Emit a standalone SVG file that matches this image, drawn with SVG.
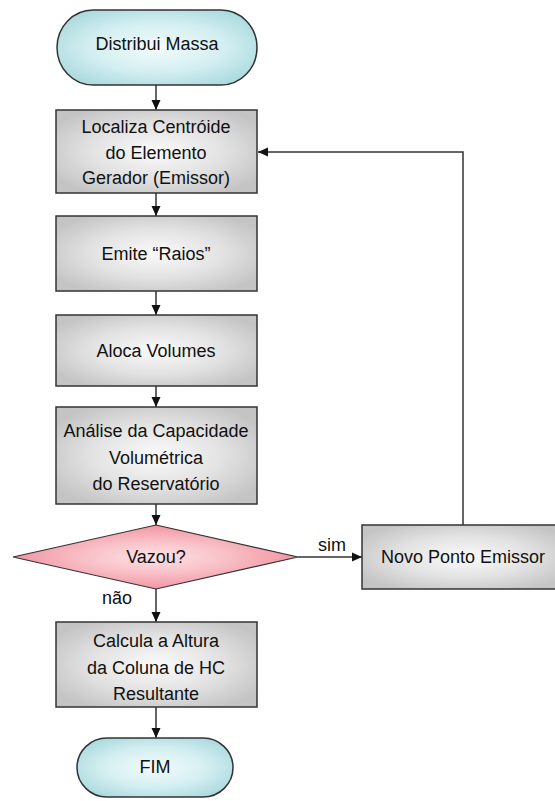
<svg xmlns="http://www.w3.org/2000/svg" width="555" height="801" viewBox="0 0 555 801">
<defs>
<radialGradient id="gBox" cx="0.5" cy="0.5" r="0.6">
<stop offset="0" stop-color="#fafafa"/>
<stop offset="0.55" stop-color="#e2e2e2"/>
<stop offset="1" stop-color="#c4c4c4"/>
</radialGradient>
<radialGradient id="gTerm" cx="0.5" cy="0.5" r="0.6">
<stop offset="0" stop-color="#f2fbfc"/>
<stop offset="0.55" stop-color="#d4eff1"/>
<stop offset="1" stop-color="#a9d9de"/>
</radialGradient>
<radialGradient id="gDia" cx="0.5" cy="0.5" r="0.5">
<stop offset="0" stop-color="#fde3e6"/>
<stop offset="0.5" stop-color="#f9c0c7"/>
<stop offset="1" stop-color="#f195a2"/>
</radialGradient>
<marker id="arr" viewBox="0 0 10 10" refX="10" refY="5" markerWidth="10" markerHeight="10" markerUnits="userSpaceOnUse" orient="auto">
<path d="M0,0.5 L10,5 L0,9.5 Z" fill="#111"/>
</marker>
</defs>
<style>
.box{fill:url(#gBox);stroke:#333;stroke-width:1.5}
.term{fill:url(#gTerm);stroke:#333;stroke-width:1.5}
.dia{fill:url(#gDia);stroke:#333;stroke-width:1.2}
.t{font-family:"Liberation Sans",Arial,sans-serif;font-size:18px;fill:#111;text-anchor:middle}
.lbl{font-family:"Liberation Sans",Arial,sans-serif;font-size:18px;fill:#111}
.c{fill:none;stroke:#333;stroke-width:1.5}
</style>
<rect width="555" height="801" fill="#fff"/>
<g id="connectors">
<line class="c" x1="156" y1="85" x2="156" y2="110" marker-end="url(#arr)"/>
<line class="c" x1="156" y1="193" x2="156" y2="216" marker-end="url(#arr)"/>
<line class="c" x1="156" y1="291" x2="156" y2="315" marker-end="url(#arr)"/>
<line class="c" x1="156" y1="386" x2="156" y2="407" marker-end="url(#arr)"/>
<line class="c" x1="156" y1="504" x2="156" y2="525" marker-end="url(#arr)"/>
<line class="c" x1="156" y1="589" x2="156" y2="622" marker-end="url(#arr)"/>
<line class="c" x1="156" y1="707" x2="156" y2="738" marker-end="url(#arr)"/>
<line class="c" x1="298" y1="557" x2="362" y2="557" marker-end="url(#arr)"/>
<polyline class="c" points="463,525 463,152 258,152" marker-end="url(#arr)"/>
<text class="lbl" x="318" y="551">sim</text>
<text class="lbl" x="102" y="604">não</text>
</g>
<g id="n-distribui">
<rect class="term" x="57" y="10" width="200" height="75" rx="36" ry="37.5"/>
<text class="t" x="157" y="50">Distribui Massa</text>
</g>
<g id="n-localiza">
<rect class="box" x="56" y="110" width="201" height="83"/>
<text class="t" x="156" y="133">Localiza Centróide</text>
<text class="t" x="156" y="158.5">do Elemento</text>
<text class="t" x="156" y="184">Gerador (Emissor)</text>
</g>
<g id="n-emite">
<rect class="box" x="56" y="216" width="201" height="75"/>
<text class="t" x="156" y="260">Emite “Raios”</text>
</g>
<g id="n-aloca">
<rect class="box" x="56" y="315" width="201" height="71"/>
<text class="t" x="156" y="357">Aloca Volumes</text>
</g>
<g id="n-analise">
<rect class="box" x="56" y="407" width="201" height="97"/>
<text class="t" x="156" y="437">Análise da Capacidade</text>
<text class="t" x="156" y="463.5">Volumétrica</text>
<text class="t" x="156" y="490">do Reservatório</text>
</g>
<g id="n-vazou">
<polygon class="dia" points="156,525 298,557 156,589 13,557"/>
<text class="t" x="156" y="563">Vazou?</text>
</g>
<g id="n-novo">
<rect class="box" x="362" y="525" width="203" height="64"/>
<text class="t" x="463" y="563">Novo Ponto Emissor</text>
</g>
<g id="n-calcula">
<rect class="box" x="56" y="622" width="201" height="85"/>
<text class="t" x="156" y="647">Calcula a Altura</text>
<text class="t" x="156" y="673.5">da Coluna de HC</text>
<text class="t" x="156" y="700">Resultante</text>
</g>
<g id="n-fim">
<rect class="term" x="77" y="738" width="156" height="59" rx="30" ry="29.5"/>
<text class="t" x="155" y="773">FIM</text>
</g>
</svg>
